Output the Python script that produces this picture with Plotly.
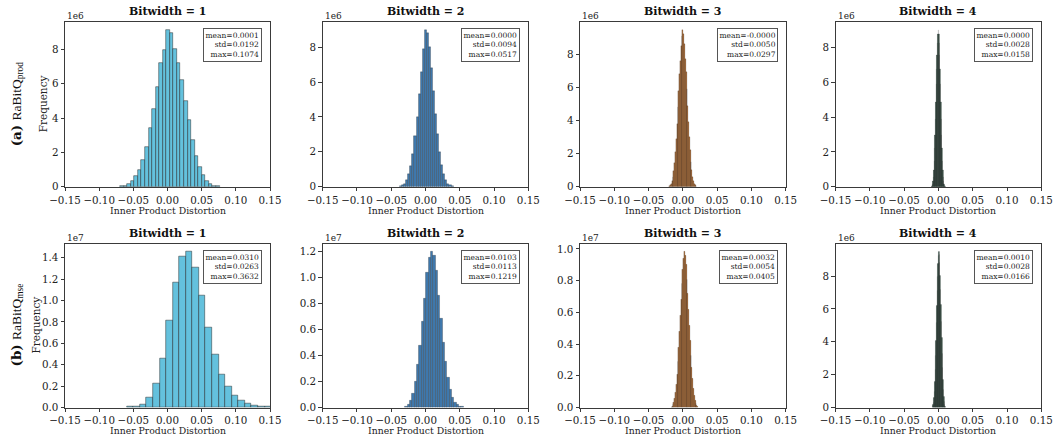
import plotly.graph_objects as go

# ---------------- data (bar heights in units of the axis offset) ----------------
bitwidths = [1, 2, 3, 4]
row_names = ["prod", "mse"]

# row (a): RaBitQ_prod
a1_counts = [0.02, 0.06, 0.16, 0.33, 0.62, 0.97, 1.55, 2.3, 3.4, 4.55, 5.8, 7.2, 8.0, 9.15,
             8.97, 8.05, 7.2, 6.2, 5.0, 3.9, 2.75, 1.8, 1.16, 0.68, 0.33, 0.14, 0.05, 0.02]
a2_counts = [0.03, 0.08, 0.18, 0.38, 0.72, 1.2, 1.9, 2.9, 4.0, 5.3, 6.6, 7.9, 9.0, 8.8, 8.0,
             6.8, 5.5, 4.2, 3.0, 2.0, 1.25, 0.72, 0.38, 0.17, 0.07, 0.02]
a3_counts = [0.03, 0.08, 0.17, 0.33, 0.58, 0.95, 1.45, 2.1, 2.9, 3.8, 4.8, 5.8, 6.8, 7.6, 8.5, 9.1,
             9.47, 9.2, 8.6, 7.7, 6.9, 5.9, 4.9, 3.9, 3.0, 2.2, 1.5, 0.98, 0.6, 0.34, 0.18, 0.08, 0.03]
a4_counts = [0.03, 0.07, 0.15, 0.3, 0.55, 0.95, 1.5, 2.2, 3.0, 3.9, 4.9, 5.9, 6.8, 7.6, 8.3, 8.8,
             9.03, 8.8, 8.3, 7.6, 6.8, 5.9, 4.9, 3.9, 3.0, 2.2, 1.5, 0.95, 0.55, 0.3, 0.15, 0.07, 0.03]
# row (b): RaBitQ_mse
b1_counts = [0.005, 0.01, 0.03, 0.09, 0.22, 0.46, 0.81, 1.17, 1.41, 1.46, 1.31, 1.05, 0.75, 0.50,
             0.31, 0.20, 0.11, 0.07, 0.04, 0.02, 0.01, 0.005]
b2_counts = [0.008, 0.022, 0.055, 0.11, 0.2, 0.33, 0.48, 0.66, 0.84, 1.04, 1.15, 1.20, 1.17, 1.05,
             0.86, 0.68, 0.5, 0.35, 0.23, 0.14, 0.08, 0.04, 0.02, 0.01, 0.005]
b3_counts = [0.003, 0.008, 0.017, 0.033, 0.058, 0.095, 0.145, 0.21, 0.29, 0.38, 0.48, 0.58, 0.68,
             0.78, 0.87, 0.94, 0.985, 0.96, 0.9, 0.81, 0.72, 0.62, 0.52, 0.42, 0.33, 0.25, 0.18,
             0.12, 0.078, 0.047, 0.026, 0.013, 0.005]
b4_counts = [0.03, 0.08, 0.16, 0.32, 0.58, 1.0, 1.58, 2.3, 3.15, 4.1, 5.15, 6.2, 7.15, 8.0, 8.75,
             9.25, 9.51, 9.3, 8.8, 8.05, 7.2, 6.25, 5.25, 4.25, 3.3, 2.45, 1.7, 1.1, 0.66, 0.37,
             0.19, 0.09, 0.04]

# histogram bins: first bin centre and bin width per panel
a_first_centre = [-0.0668, -0.036, -0.0192, -0.0096]
a_bin_width = [0.0052, 0.003, 0.0012, 0.0006]
b_first_centre = [-0.0548, -0.0281, -0.0168, -0.0088]
b_bin_width = [0.0096, 0.0034, 0.0012, 0.0006]

a_offset = ["1e6", "1e6", "1e6", "1e6"]
b_offset = ["1e7", "1e7", "1e7", "1e6"]

a_stats = [("0.0001", "0.0192", "0.1074"), ("0.0000", "0.0094", "0.0517"),
           ("-0.0000", "0.0050", "0.0297"), ("0.0000", "0.0028", "0.0158")]
b_stats = [("0.0310", "0.0263", "0.3632"), ("0.0103", "0.0113", "0.1219"),
           ("0.0032", "0.0054", "0.0405"), ("0.0010", "0.0028", "0.0166")]

x_tick_vals = [-0.15, -0.10, -0.05, 0.00, 0.05, 0.10, 0.15]
x_tick_text = ["\u22120.15", "\u22120.10", "\u22120.05", "0.00", "0.05", "0.10", "0.15"]

a_ytick_step = [2, 2, 2, 2]
b_ytick_step = [0.2, 0.2, 0.2, 2]

colors = ["#64c1dd", "#3f78ac", "#ad6a30", "#1d3a2d"]
edge_w = [0.6, 0.35, 0.25, 0.2]

# ---------------- layout geometry (pixels) ----------------
W, H = 1053, 438
col_px = [(65, 270), (322.7, 528.3), (580, 785.7), (835.5, 1041.3)]
row_px = [(22, 186.7), (243.5, 407.5)]
xtitle_gap = [24, 23]

FONT = "DejaVu Serif"
fig = go.Figure()

rows = [
    (a1_counts, a2_counts, a3_counts, a4_counts),
    (b1_counts, b2_counts, b3_counts, b4_counts),
]
firsts = [a_first_centre, b_first_centre]
widths = [a_bin_width, b_bin_width]
offsets = [a_offset, b_offset]
stats = [a_stats, b_stats]
ysteps = [a_ytick_step, b_ytick_step]

annotations = []
for r in range(2):
    for c in range(4):
        idx = r * 4 + c + 1
        xa = "x" if idx == 1 else f"x{idx}"
        ya = "y" if idx == 1 else f"y{idx}"
        counts = rows[r][c]
        w = widths[r][c]
        centres = [firsts[r][c] + i * w for i in range(len(counts))]
        fig.add_trace(go.Bar(
            x=centres, y=counts, width=w, xaxis=xa, yaxis=ya,
            marker=dict(color=colors[c], line=dict(color="rgba(25,25,25,0.75)", width=edge_w[c])),
            showlegend=False, hoverinfo="skip"))

        ymax = max(counts) * 1.05
        step = ysteps[r][c]
        nt = int(ymax / step + 1e-9) + 1
        tv = [round(k * step, 6) for k in range(nt)]
        tt = [(f"{v:.1f}" if step < 1 else f"{v:.0f}") for v in tv]

        xd = [col_px[c][0] / W, col_px[c][1] / W]
        yd = [1 - row_px[r][1] / H, 1 - row_px[r][0] / H]
        common = dict(showline=True, mirror=True, linecolor="#3a3a3a", linewidth=1,
                      ticks="outside", ticklen=3.5, tickwidth=1, tickcolor="#3a3a3a",
                      showgrid=False, zeroline=False, automargin=False,
                      ticklabeloverflow="allow", tickangle=0,
                      tickfont=dict(family=FONT, size=10.3, color="#222"))
        fig.layout[("xaxis" if idx == 1 else f"xaxis{idx}")] = dict(
            domain=xd, anchor=ya, range=[-0.15, 0.15], tickvals=x_tick_vals, ticktext=x_tick_text,
            **common)
        fig.layout[("yaxis" if idx == 1 else f"yaxis{idx}")] = dict(
            domain=yd, anchor=xa, range=[0, ymax], tickvals=tv, ticktext=tt, **common)

        dref = f"{xa} domain"
        yref = f"{ya} domain"
        # x axis title
        annotations.append(dict(text="Inner Product Distortion", xref=dref, yref="paper",
                                x=0.5, y=1 - (row_px[r][1] + xtitle_gap[r]) / H, xanchor="center",
                                yanchor="middle", showarrow=False,
                                font=dict(family=FONT, size=9.3, color="#222")))
        # title
        annotations.append(dict(text=f"<b>Bitwidth = {bitwidths[c]}</b>", xref=dref, yref=yref,
                                x=0.5, y=1, xanchor="center", yanchor="bottom", yshift=2,
                                showarrow=False, font=dict(family=FONT, size=11, color="#111")))
        # offset text
        annotations.append(dict(text=offsets[r][c], xref=dref, yref=yref, x=0, y=1,
                                xanchor="left", yanchor="bottom", yshift=-1, showarrow=False,
                                font=dict(family=FONT, size=9, color="#222")))
        # stats box
        m, s, mx = stats[r][c]
        annotations.append(dict(text=f"mean={m}<br>std={s}<br>max={mx}", xref=dref, yref=yref,
                                x=1, y=1, xanchor="right", yanchor="top", xshift=-8, yshift=-6,
                                align="right", showarrow=False, bgcolor="white",
                                bordercolor="#555", borderwidth=1, borderpad=1.5,
                                font=dict(family=FONT, size=7.5, color="#222")))

# y labels and row labels
freq_x = [43, 35]
row_lab_x = [17, 16]
row_label_text = [
    "<b>(a)</b> <span style='font-family:Liberation Serif'>RaBitQ<sub>prod</sub></span>",
    "<b>(b)</b> <span style='font-family:Liberation Serif'>RaBitQ<sub>mse</sub></span>",
]
for r in range(2):
    yc = 1 - (row_px[r][0] + row_px[r][1]) / 2 / H
    annotations.append(dict(text="Frequency", xref="paper", yref="paper", x=freq_x[r] / W, y=yc,
                            xanchor="center", yanchor="middle", textangle=-90, showarrow=False,
                            font=dict(family=FONT, size=10.5, color="#222")))
    annotations.append(dict(text=row_label_text[r], xref="paper", yref="paper", x=row_lab_x[r] / W,
                            y=yc, xanchor="center", yanchor="middle", textangle=-90, showarrow=False,
                            font=dict(family=FONT, size=13.5, color="#111")))

fig.update_layout(width=W, height=H, margin=dict(l=0, r=0, t=0, b=0),
                  paper_bgcolor="white", plot_bgcolor="white", bargap=0,
                  annotations=annotations)

fig.write_html("out.html", config={"displayModeBar": False},
               post_script="document.body.style.margin='0';document.body.style.padding='0';")
